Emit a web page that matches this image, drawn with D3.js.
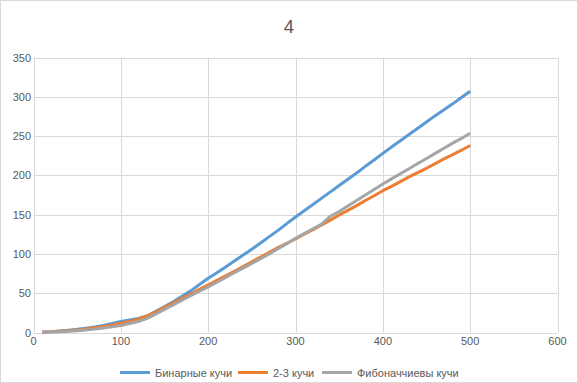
<!DOCTYPE html>
<html><head><meta charset="utf-8">
<script src="https://cdn.jsdelivr.net/npm/d3@7"></script>
<style>html,body{margin:0;padding:0;background:#fff;}svg{display:block;}</style>
</head><body>
<script>
const title = "4";
const xValues = [10,20,30,40,50,60,70,80,90,100,110,120,130,140,150,160,170,180,190,200,210,220,230,240,250,260,270,280,290,300,310,320,330,340,350,360,370,380,390,400,410,420,430,440,450,460,470,480,490,500];
const binary = [0.5,1,1.8,2.8,4,5.5,7,9,11.5,14,16,18,21,27,33,39,46,53,61,69,76,83.5,91,98.5,106,114,122,130,138.5,147,155,163,171,179,187,195,203,211.5,219.5,228,236,244,252,260,268,276,283.5,291,299,307];
const twoThree = [0.3,0.8,1.5,2.3,3.3,4.5,6,7.5,9.5,11.8,14,17,21,26,32,37.5,43.5,49,55,60.5,66.5,72,78,84,90,96,102,108,113.5,119,125,131,137,143,149.5,155.5,161.5,168,174,180.5,186,192,198,203.5,209,215,221,226.5,232,238];
const fibonacci = [0.2,0.5,1,1.6,2.3,3.2,4.3,5.6,7.2,9,11.5,14,18,23.5,29.5,35,41,47,52.5,58,64,70,76,82,88,94,100,106.5,113,120,126,132,138,148,154,161,168,175,182,189,195.5,202,208.5,215,221.5,228,234.5,241,247,253.5];
const seriesNames = ["Бинарные кучи","2-3 кучи","Фибоначчиевы кучи"];
const seriesColors = ["#5b9bd5","#ed7d31","#a5a5a5"];
const xTicks = [0,100,200,300,400,500,600];
const yTicks = [0,50,100,150,200,250,300,350];

const W = 578, H = 383;
const svg = d3.select("body").append("svg").attr("width", W).attr("height", H);
svg.append("rect").attr("x",0.5).attr("y",0.5).attr("width",W-1).attr("height",H-1)
  .attr("fill","#fff").attr("stroke","#d9d9d9");

const x = d3.scaleLinear().domain([0,600]).range([33.5,557.5]);
const y = d3.scaleLinear().domain([0,350]).range([332.5,57.5]);
const font = "'Liberation Sans', Arial, sans-serif";
const txt = "#595959";

svg.append("text").attr("x",289).attr("y",33).attr("text-anchor","middle")
  .attr("font-family",font).attr("font-size",18.5).attr("fill",txt).text(title);

// gridlines
svg.append("g").selectAll("line").data(yTicks).join("line")
  .attr("x1",x(0)).attr("x2",x(600)).attr("y1",d=>Math.round(y(d))+0.5).attr("y2",d=>Math.round(y(d))+0.5)
  .attr("stroke","#d9d9d9").attr("stroke-width",1);
svg.append("g").selectAll("line").data(xTicks).join("line")
  .attr("y1",y(0)).attr("y2",y(350)).attr("x1",d=>Math.round(x(d))+0.5).attr("x2",d=>Math.round(x(d))+0.5)
  .attr("stroke","#d9d9d9").attr("stroke-width",1);

// tick labels
svg.append("g").selectAll("text").data(yTicks).join("text")
  .attr("x",31).attr("y",d=>y(d)+4).attr("text-anchor","end")
  .attr("font-family",font).attr("font-size",11).attr("fill",txt).text(d=>d);
svg.append("g").selectAll("text").data(xTicks).join("text")
  .attr("x",d=>x(d)).attr("y",345).attr("text-anchor","middle")
  .attr("font-family",font).attr("font-size",11).attr("fill",txt).text(d=>d);

// series
const allSeries = [binary, twoThree, fibonacci];
const line = d3.line().x((d,i)=>x(xValues[i])).y(d=>y(d));
allSeries.forEach((s,k)=>{
  svg.append("path").datum(s).attr("d",line).attr("fill","none")
    .attr("stroke",seriesColors[k]).attr("stroke-width",3).attr("stroke-linejoin","round");
});

// legend
const legX = [120,238,322];
const lg = svg.append("g");
seriesNames.forEach((n,k)=>{
  lg.append("line").attr("x1",legX[k]).attr("x2",legX[k]+30).attr("y1",372.5).attr("y2",372.5)
    .attr("stroke",seriesColors[k]).attr("stroke-width",3);
  lg.append("text").attr("x",legX[k]+35).attr("y",376.5).attr("font-family",font)
    .attr("font-size",11).attr("fill",txt).text(n);
});
</script>
</body></html>
